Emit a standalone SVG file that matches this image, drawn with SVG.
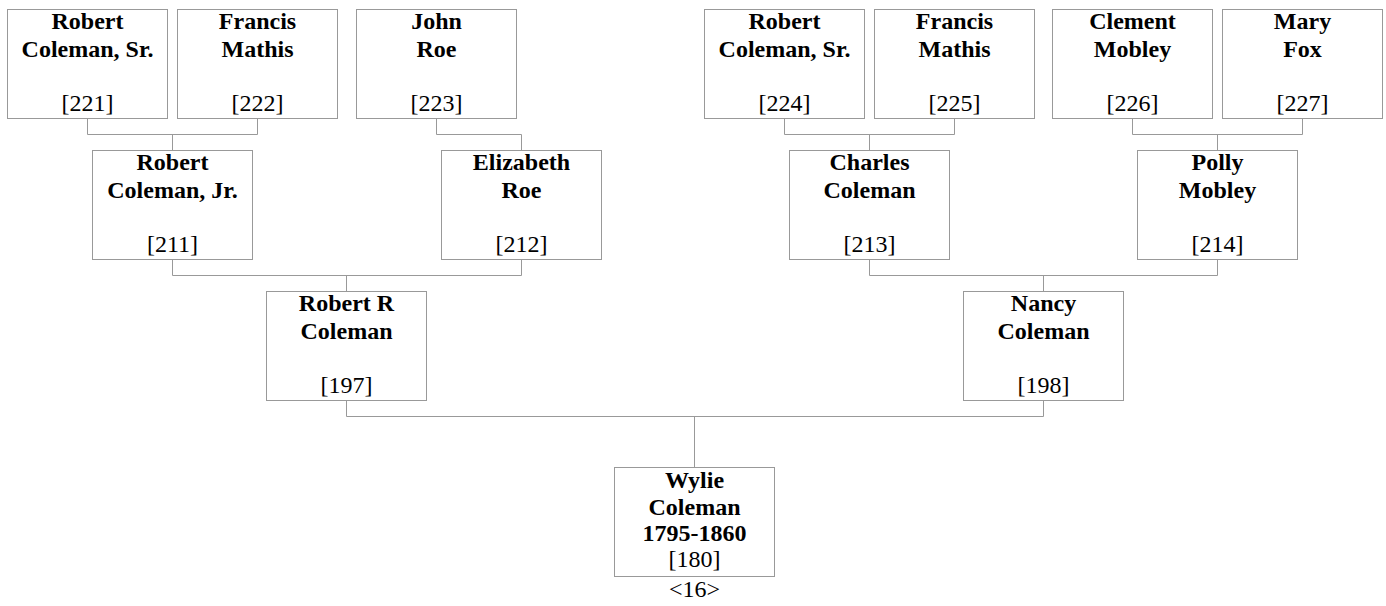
<svg xmlns="http://www.w3.org/2000/svg" width="1386" height="606" viewBox="0 0 1386 606">
<style>
.box{fill:#fff;stroke:#999;stroke-width:1}
.c{fill:none;stroke:#999;stroke-width:1}
.n{font-weight:bold}
</style>
<rect width="1386" height="606" fill="#fff"/>
<g id="connectors">
<path class="c" d="M87.5 118.5V134.5H257.5V118.5M172.5 134.5V150.5"/>
<path class="c" d="M436.5 118.5V134.5H521.5V150.5"/>
<path class="c" d="M784.5 118.5V134.5H954.5V118.5M869.5 134.5V150.5"/>
<path class="c" d="M1132.5 118.5V134.5H1302.5V118.5M1217.5 134.5V150.5"/>
<path class="c" d="M172.5 259.5V275.5H521.5V259.5M346.5 275.5V291.5"/>
<path class="c" d="M869.5 259.5V275.5H1217.5V259.5M1043.5 275.5V291.5"/>
<path class="c" d="M346.5 400.5V416.5H1043.5V400.5M694.5 416.5V467.5"/>
</g>
<g font-family="Liberation Serif, serif" font-size="24" fill="#000" text-anchor="middle">
<g id="p221"><rect class="box" x="7.5" y="9.5" width="160" height="109"/><text class="n" x="87.5" y="29">Robert</text><text class="n" x="87.5" y="57">Coleman, Sr.</text><text x="87.5" y="111">[221]</text></g>
<g id="p222"><rect class="box" x="177.5" y="9.5" width="160" height="109"/><text class="n" x="257.5" y="29">Francis</text><text class="n" x="257.5" y="57">Mathis</text><text x="257.5" y="111">[222]</text></g>
<g id="p223"><rect class="box" x="356.5" y="9.5" width="160" height="109"/><text class="n" x="436.5" y="29">John</text><text class="n" x="436.5" y="57">Roe</text><text x="436.5" y="111">[223]</text></g>
<g id="p224"><rect class="box" x="704.5" y="9.5" width="160" height="109"/><text class="n" x="784.5" y="29">Robert</text><text class="n" x="784.5" y="57">Coleman, Sr.</text><text x="784.5" y="111">[224]</text></g>
<g id="p225"><rect class="box" x="874.5" y="9.5" width="160" height="109"/><text class="n" x="954.5" y="29">Francis</text><text class="n" x="954.5" y="57">Mathis</text><text x="954.5" y="111">[225]</text></g>
<g id="p226"><rect class="box" x="1052.5" y="9.5" width="160" height="109"/><text class="n" x="1132.5" y="29">Clement</text><text class="n" x="1132.5" y="57">Mobley</text><text x="1132.5" y="111">[226]</text></g>
<g id="p227"><rect class="box" x="1222.5" y="9.5" width="160" height="109"/><text class="n" x="1302.5" y="29">Mary</text><text class="n" x="1302.5" y="57">Fox</text><text x="1302.5" y="111">[227]</text></g>
<g id="p211"><rect class="box" x="92.5" y="150.5" width="160" height="109"/><text class="n" x="172.5" y="170">Robert</text><text class="n" x="172.5" y="198">Coleman, Jr.</text><text x="172.5" y="252">[211]</text></g>
<g id="p212"><rect class="box" x="441.5" y="150.5" width="160" height="109"/><text class="n" x="521.5" y="170">Elizabeth</text><text class="n" x="521.5" y="198">Roe</text><text x="521.5" y="252">[212]</text></g>
<g id="p213"><rect class="box" x="789.5" y="150.5" width="160" height="109"/><text class="n" x="869.5" y="170">Charles</text><text class="n" x="869.5" y="198">Coleman</text><text x="869.5" y="252">[213]</text></g>
<g id="p214"><rect class="box" x="1137.5" y="150.5" width="160" height="109"/><text class="n" x="1217.5" y="170">Polly</text><text class="n" x="1217.5" y="198">Mobley</text><text x="1217.5" y="252">[214]</text></g>
<g id="p197"><rect class="box" x="266.5" y="291.5" width="160" height="109"/><text class="n" x="346.5" y="311">Robert R</text><text class="n" x="346.5" y="339">Coleman</text><text x="346.5" y="393">[197]</text></g>
<g id="p198"><rect class="box" x="963.5" y="291.5" width="160" height="109"/><text class="n" x="1043.5" y="311">Nancy</text><text class="n" x="1043.5" y="339">Coleman</text><text x="1043.5" y="393">[198]</text></g>
<g id="p180"><rect class="box" x="614.5" y="467.5" width="160" height="109"/><text class="n" x="694.5" y="488">Wylie</text><text class="n" x="694.5" y="515">Coleman</text><text class="n" x="694.5" y="541">1795-1860</text><text x="694.5" y="567">[180]</text><text x="694.5" y="597">&lt;16&gt;</text></g>
</g>
</svg>
